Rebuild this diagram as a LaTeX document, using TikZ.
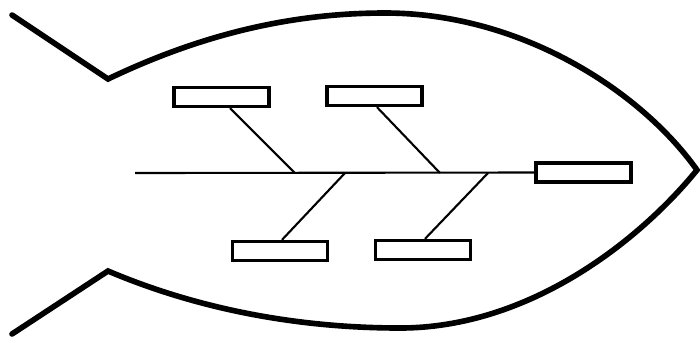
\documentclass[tikz,border=0pt]{standalone}
\usetikzlibrary{calc}

\begin{document}
\begin{tikzpicture}[x=0.02cm,y=-0.02cm,
  body/.style={line width=3.2pt,line cap=round,line join=miter},
  box/.style={draw,line width=1.9pt,inner sep=0pt,minimum width=1.9cm,minimum height=0.38cm},
  bone/.style={line width=1.2pt}]
\useasboundingbox (0,0) rectangle (700,336);
\draw[body] (12,15) -- (108,79)
  .. controls (200,35) and (290,13) .. (385,13)
  .. controls (520,13) and (640,90) .. (697,170)
  .. controls (640,240) and (530,328) .. (400,328)
  .. controls (300,328) and (200,310) .. (108,271) -- (12,334);
\node[box] (tl) at (221.5,97) {};
\node[box] (tr) at (374.5,96) {};
\node[box] (bl) at (280,251) {};
\node[box] (br) at (423,250) {};
\node[box] (head) at (583.5,172.5) {};
\coordinate (tail) at (135,173);
\coordinate (s1) at (295,173);
\coordinate (s2) at (345,173);
\coordinate (s3) at (440,173);
\coordinate (s4) at (488,173);
\draw[bone] (tail) -- (head.west);
\draw[bone] ($(tl.south)+(8.5,0)$) -- (s1); \draw[bone] ($(tr.south)+(2.5,0)$) -- (s3);
\draw[bone] (s2) -- ($(bl.north)+(2,0)$); \draw[bone] (s4) -- ($(br.north)+(2,0)$);
\end{tikzpicture}
\end{document}
